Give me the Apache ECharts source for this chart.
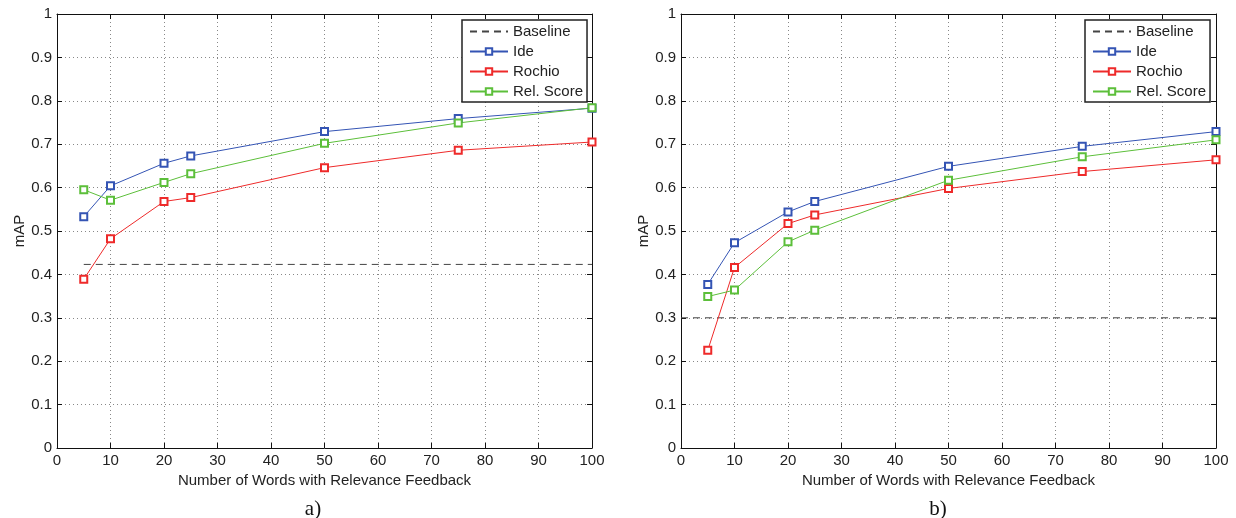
<!DOCTYPE html>
<html>
<head>
<meta charset="utf-8">
<script src="https://cdn.jsdelivr.net/npm/echarts@6/dist/echarts.min.js"></script>
<style>
  html, body { margin: 0; padding: 0; background: #fff; }
  #chart { width: 1236px; height: 518px; }
</style>
</head>
<body>
<div id="chart"></div>
<script>
// x positions (number of words)
const words = [5, 10, 20, 25, 50, 75, 100];

// panel a)
const ideA = [0.533, 0.604, 0.656, 0.673, 0.729, 0.759, 0.783];
const rochioA = [0.389, 0.482, 0.568, 0.577, 0.646, 0.686, 0.705];
const relScoreA = [0.595, 0.571, 0.612, 0.632, 0.702, 0.749, 0.784];
const baselineA = 0.423;
const baselineSpanA = [5, 100];

// panel b)
const ideB = [0.377, 0.473, 0.544, 0.568, 0.649, 0.695, 0.729];
const rochioB = [0.225, 0.416, 0.517, 0.537, 0.598, 0.637, 0.664];
const relScoreB = [0.349, 0.364, 0.475, 0.502, 0.617, 0.671, 0.710];
const baselineB = 0.3;
const baselineSpanB = [0, 100];

const seriesNames = ['Baseline', 'Ide', 'Rochio', 'Rel. Score'];
const panelLabels = ['a)', 'b)'];

const FONT = 'Liberation Sans, Arial, sans-serif';
const colors = { Ide: '#3454b4', Rochio: '#ee2a2a', 'Rel. Score': '#5cbf3a', Baseline: '#444' };

const mychart = echarts.init(document.getElementById('chart'));

function pairs(ys) {
    return words.map((x, i) => [x, ys[i]]);
}

function xAxes(grid) {
    const base = {
        gridIndex: grid, type: 'value', min: 0, max: 100, interval: 10,
        axisLine: { show: true, onZero: false, lineStyle: { color: '#111', width: 1 } },
        axisTick: { show: true, inside: true, length: 5, lineStyle: { color: '#111' } }
    };
    return [
        Object.assign({}, base, {
            position: 'bottom',
            axisLabel: { margin: 5, color: '#222', fontSize: 15, fontFamily: FONT },
            splitLine: { show: true, lineStyle: { color: '#888', type: [1, 3], width: 1 } },
            name: 'Number of Words with Relevance Feedback',
            nameLocation: 'middle',
            nameGap: 21,
            nameTextStyle: { color: '#222', fontSize: 15, fontFamily: FONT }
        }),
        Object.assign({}, base, {
            position: 'top',
            axisLabel: { show: false },
            splitLine: { show: false }
        })
    ];
}

function yAxes(grid) {
    const base = {
        gridIndex: grid, type: 'value', min: 0, max: 1, interval: 0.1,
        axisLine: { show: true, onZero: false, lineStyle: { color: '#111', width: 1 } },
        axisTick: { show: true, inside: true, length: 5, lineStyle: { color: '#111' } }
    };
    return [
        Object.assign({}, base, {
            position: 'left',
            axisLabel: { margin: 5, color: '#222', fontSize: 15, fontFamily: FONT },
            splitLine: { show: true, lineStyle: { color: '#888', type: [1, 3], width: 1 } },
            name: 'mAP',
            nameLocation: 'middle',
            nameGap: 30,
            nameTextStyle: { color: '#222', fontSize: 15, fontFamily: FONT }
        }),
        Object.assign({}, base, {
            position: 'right',
            axisLabel: { show: false },
            splitLine: { show: false }
        })
    ];
}

function panelSeries(axisIdx, ide, rochio, relScore, baseline, span) {
    const lines = [
        ['Ide', ide],
        ['Rochio', rochio],
        ['Rel. Score', relScore]
    ].map(([name, ys]) => ({
        name: name,
        type: 'line',
        xAxisIndex: axisIdx,
        yAxisIndex: axisIdx,
        data: pairs(ys),
        symbol: 'emptyRect',
        symbolSize: 7,
        showAllSymbol: true,
        color: colors[name],
        lineStyle: { width: 1, color: colors[name] },
        itemStyle: { color: colors[name], borderWidth: 1 },
        z: 3
    }));
    lines.unshift({
        name: 'Baseline',
        type: 'line',
        xAxisIndex: axisIdx,
        yAxisIndex: axisIdx,
        data: span.map(x => [x, baseline]),
        symbol: 'none',
        color: colors.Baseline,
        lineStyle: { width: 1, color: colors.Baseline, type: [7, 5] },
        z: 2
    });
    return lines;
}

function legendAt(left) {
    // baseline entry: only the dashed line, no marker
    const items = seriesNames.map(n => n === 'Baseline'
        ? { name: n, itemStyle: { opacity: 0 } }
        : { name: n });
    return {
        data: items,
        orient: 'vertical',
        left: left,
        top: 20,
        backgroundColor: '#fff',
        borderColor: '#222',
        borderWidth: 1.5,
        borderRadius: 0,
        padding: [4, 4, 3, 7],
        itemWidth: 38,
        itemHeight: 8,
        itemGap: 5,
        selectedMode: false,
        textStyle: { color: '#222', fontSize: 15, fontFamily: FONT, lineHeight: 15 }
    };
}

mychart.setOption({
    animation: false,
    title: [
        { text: panelLabels[0], left: 308, top: 494, textAlign: 'center',
          textStyle: { fontFamily: 'Liberation Serif, Times New Roman, serif', fontSize: 21, fontWeight: 'normal', color: '#111' } },
        { text: panelLabels[1], left: 933, top: 494, textAlign: 'center',
          textStyle: { fontFamily: 'Liberation Serif, Times New Roman, serif', fontSize: 21, fontWeight: 'normal', color: '#111' } }
    ],
    grid: [
        { left: 57, top: 14, width: 535, height: 434, containLabel: false },
        { left: 681, top: 14, width: 535, height: 434, containLabel: false }
    ],
    legend: [legendAt(462), legendAt(1085)],
    xAxis: xAxes(0).concat(xAxes(1)),
    yAxis: yAxes(0).concat(yAxes(1)),
    series: panelSeries(0, ideA, rochioA, relScoreA, baselineA, baselineSpanA)
        .concat(panelSeries(2, ideB, rochioB, relScoreB, baselineB, baselineSpanB))
});
</script>
</body>
</html>
